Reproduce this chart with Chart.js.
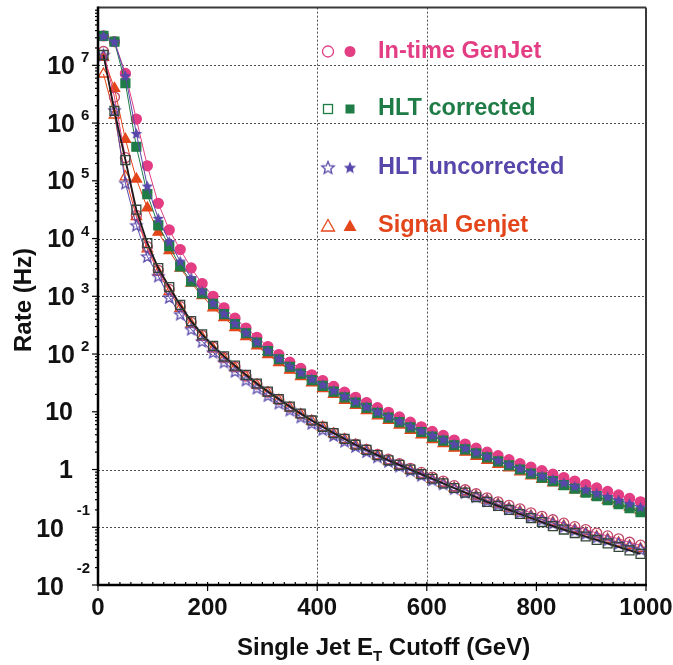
<!DOCTYPE html>
<html>
<head>
<meta charset="utf-8">
<script src="https://cdn.jsdelivr.net/npm/chart.js@4.4.1/dist/chart.umd.min.js"></script>
<style>
  html, body { margin: 0; padding: 0; background: #fff; }
  canvas { display: block; }
</style>
</head>
<body>
<canvas id="rateChart" width="673" height="665"></canvas>
<script>
// Single jet ET cutoff (GeV) of each point
const etCut = [10, 30, 50, 70, 90, 110, 130, 150, 170, 190,
  210, 230, 250, 270, 290, 310, 330, 350, 370, 390,
  410, 430, 450, 470, 490, 510, 530, 550, 570, 590,
  610, 630, 650, 670, 690, 710, 730, 750, 770, 790,
  810, 830, 850, 870, 890, 910, 930, 950, 970, 990];

// log10(rate / Hz) -- filled markers (upper band)
const inTimeFilled = [7.51, 7.41, 6.86, 6.07, 5.26, 4.61, 4.15, 3.81, 3.49, 3.22,
  3.00, 2.80, 2.62, 2.45, 2.29, 2.13, 1.99, 1.86, 1.75, 1.64,
  1.54, 1.44, 1.34, 1.25, 1.16, 1.07, 0.99, 0.91, 0.82, 0.74,
  0.66, 0.59, 0.51, 0.44, 0.37, 0.30, 0.24, 0.17, 0.10, 0.04,
  -0.02, -0.08, -0.14, -0.20, -0.26, -0.32, -0.38, -0.44, -0.50, -0.56];
const hltCorrFilled = [7.51, 7.41, 6.69, 5.59, 4.77, 4.23, 3.87, 3.52, 3.26, 3.05,
  2.87, 2.69, 2.52, 2.36, 2.20, 2.05, 1.91, 1.78, 1.66, 1.55,
  1.45, 1.35, 1.25, 1.16, 1.07, 0.98, 0.90, 0.82, 0.73, 0.65,
  0.57, 0.50, 0.42, 0.35, 0.28, 0.21, 0.14, 0.07, 0.00, -0.07,
  -0.14, -0.20, -0.27, -0.33, -0.40, -0.46, -0.53, -0.60, -0.67, -0.74];
const hltUncorrFilled = [7.51, 7.41, 6.82, 5.82, 4.91, 4.35, 3.95, 3.61, 3.32, 3.09,
  2.88, 2.70, 2.53, 2.37, 2.21, 2.06, 1.92, 1.79, 1.68, 1.57,
  1.47, 1.37, 1.27, 1.18, 1.09, 1.00, 0.92, 0.84, 0.75, 0.67,
  0.59, 0.52, 0.44, 0.37, 0.30, 0.23, 0.16, 0.09, 0.02, -0.05,
  -0.11, -0.17, -0.23, -0.29, -0.35, -0.41, -0.47, -0.53, -0.59, -0.65];
const signalFilled = [7.14, 6.60, 5.72, 5.03, 4.53, 4.11, 3.79, 3.49, 3.23, 3.01,
  2.80, 2.63, 2.46, 2.30, 2.14, 1.99, 1.85, 1.72, 1.61, 1.50,
  1.40, 1.30, 1.20, 1.11, 1.02, 0.93, 0.85, 0.77, 0.68, 0.60,
  0.52, 0.45, 0.37, 0.30, 0.23, 0.16, 0.09, 0.03, -0.04, -0.11,
  -0.17, -0.23, -0.29, -0.35, -0.41, -0.47, -0.53, -0.59, -0.65, -0.71];

// open markers (lower band)
const inTimeOpen = [7.24, 6.45, 5.40, 4.40, 3.86, 3.45, 3.12, 2.82, 2.55, 2.32,
  2.12, 1.94, 1.78, 1.62, 1.48, 1.34, 1.21, 1.08, 0.96, 0.85,
  0.74, 0.63, 0.53, 0.44, 0.35, 0.26, 0.18, 0.10, 0.02, -0.05,
  -0.13, -0.20, -0.28, -0.35, -0.42, -0.49, -0.56, -0.62, -0.68, -0.75,
  -0.81, -0.87, -0.93, -0.99, -1.04, -1.10, -1.15, -1.20, -1.26, -1.31];
const hltCorrOpen = [7.18, 6.21, 5.36, 4.50, 3.92, 3.49, 3.16, 2.85, 2.57, 2.34,
  2.14, 1.96, 1.80, 1.64, 1.49, 1.35, 1.22, 1.09, 0.97, 0.85,
  0.74, 0.63, 0.53, 0.43, 0.34, 0.25, 0.16, 0.08, 0.00, -0.08,
  -0.16, -0.24, -0.32, -0.40, -0.48, -0.56, -0.63, -0.70, -0.77, -0.84,
  -0.91, -0.98, -1.04, -1.10, -1.16, -1.22, -1.28, -1.34, -1.40, -1.46];
const hltUncorrOpen = [7.18, 6.22, 4.96, 4.23, 3.69, 3.35, 2.98, 2.69, 2.43, 2.22,
  2.03, 1.86, 1.70, 1.55, 1.41, 1.28, 1.15, 1.03, 0.91, 0.80,
  0.69, 0.59, 0.49, 0.40, 0.31, 0.22, 0.14, 0.06, -0.02, -0.10,
  -0.18, -0.25, -0.33, -0.40, -0.47, -0.54, -0.61, -0.68, -0.74, -0.81,
  -0.87, -0.93, -0.99, -1.05, -1.11, -1.17, -1.22, -1.28, -1.33, -1.38];
const signalOpen = [6.85, 6.14, 5.07, 4.38, 3.82, 3.42, 3.08, 2.79, 2.52, 2.29,
  2.09, 1.92, 1.76, 1.61, 1.46, 1.33, 1.20, 1.07, 0.95, 0.84,
  0.73, 0.62, 0.52, 0.42, 0.33, 0.24, 0.15, 0.07, -0.01, -0.09,
  -0.17, -0.24, -0.32, -0.39, -0.46, -0.53, -0.60, -0.67, -0.73, -0.80,
  -0.86, -0.92, -0.98, -1.04, -1.10, -1.16, -1.21, -1.27, -1.32, -1.37];

// axes
const xTicks = [0, 200, 400, 600, 800, 1000];
const yExps = [-2, -1, 0, 1, 2, 3, 4, 5, 6, 7];
const xGridAt = [400, 600];
const yGridExps = [-1, 0, 2, 3, 4, 6, 7];
const legendLabels = ['In-time GenJet', 'HLT corrected', 'HLT uncorrected', 'Signal Genjet'];

const PINK = '#e33d84';
const GREEN = '#1f7c46';
const PURPLE = '#5747aa';
const RED = '#e4461b';
const FONT = '"Liberation Sans", Arial, Helvetica, sans-serif';
const NONE = 'rgba(0,0,0,0)';

// 5-point star as an image, Chart.js has no such pointStyle
function makeStar(color, filled, r) {
    const c = document.createElement('canvas');
    const s = Math.ceil(2 * r + 3);
    c.width = s;
    c.height = s;
    const g = c.getContext('2d');
    g.translate(s / 2, s / 2 + r * 0.08);
    g.beginPath();
    for (let i = 0; i < 10; i++) {
        const rad = i % 2 ? r * 0.45 : r;
        const ang = -Math.PI / 2 + i * Math.PI / 5;
        g.lineTo(rad * Math.cos(ang), rad * Math.sin(ang));
    }
    g.closePath();
    if (filled) {
        g.fillStyle = color;
        g.fill();
    } else {
        g.strokeStyle = color;
        g.lineWidth = 1.3;
        g.stroke();
    }
    return c;
}

function series(label, vals, opts) {
    return Object.assign({
        label: label,
        data: etCut.map((e, i) => ({ x: e, y: Math.pow(10, vals[i]) })),
        borderWidth: 1,
        pointRadius: 5,
        pointBorderWidth: 1.3,
        tension: 0
    }, opts);
}

const datasets = [
    series('In-time GenJet (filled)', inTimeFilled, {
        order: 8, pointStyle: 'circle', borderColor: PINK,
        pointBorderColor: PINK, pointBackgroundColor: PINK, pointRadius: 5
    }),
    series('Signal Genjet (filled)', signalFilled, {
        order: 7, pointStyle: 'triangle', borderColor: RED,
        pointBorderColor: RED, pointBackgroundColor: RED, pointRadius: 6
    }),
    series('HLT corrected (filled)', hltCorrFilled, {
        order: 6, pointStyle: 'rect', borderColor: GREEN,
        pointBorderColor: GREEN, pointBackgroundColor: GREEN, pointRadius: 6.3
    }),
    series('HLT uncorrected (filled)', hltUncorrFilled, {
        order: 5, pointStyle: makeStar(PURPLE, true, 6), borderColor: PURPLE,
        pointBorderColor: PURPLE, pointBackgroundColor: PURPLE
    }),
    series('Signal Genjet (open)', signalOpen, {
        order: 4, pointStyle: 'triangle', borderColor: RED,
        pointBorderColor: RED, pointBackgroundColor: NONE, pointRadius: 6
    }),
    series('In-time GenJet (open)', inTimeOpen, {
        order: 3, pointStyle: 'circle', borderColor: PINK,
        pointBorderColor: '#c0476a', pointBackgroundColor: NONE, pointRadius: 5
    }),
    series('HLT uncorrected (open)', hltUncorrOpen, {
        order: 2, pointStyle: makeStar(PURPLE, false, 6), borderColor: PURPLE,
        pointBorderColor: PURPLE, pointBackgroundColor: NONE
    }),
    series('HLT corrected (open)', hltCorrOpen, {
        order: 1, pointStyle: 'rect', borderColor: '#1e1a18', borderWidth: 1.8,
        pointBorderColor: '#34463a', pointBackgroundColor: NONE, pointRadius: 6.3
    })
];

function seg(ctx, x1, y1, x2, y2) {
    ctx.beginPath();
    ctx.moveTo(x1, y1);
    ctx.lineTo(x2, y2);
    ctx.stroke();
}

// grid, frame, ticks, labels and legend drawn on the library's scales
const decor = {
    id: 'decor',
    beforeDatasetsDraw(chart) {
        const { ctx, chartArea: a, scales: { x, y } } = chart;
        ctx.save();
        ctx.strokeStyle = '#4d4d4d';
        ctx.lineWidth = 1;
        ctx.setLineDash([2, 2]);
        yGridExps.forEach(e => {
            const py = Math.round(y.getPixelForValue(Math.pow(10, e))) + 0.5;
            seg(ctx, a.left, py, a.right, py);
        });
        xGridAt.forEach(v => {
            const px = Math.round(x.getPixelForValue(v)) + 0.5;
            seg(ctx, px, a.top, px, a.bottom);
        });
        ctx.restore();
    },
    afterDatasetsDraw(chart) {
        const { ctx, chartArea: a, scales: { x, y } } = chart;
        ctx.save();

        // top and right frame
        ctx.strokeStyle = '#3a3a3a';
        ctx.lineWidth = 2;
        seg(ctx, a.left, a.top, a.right, a.top);
        seg(ctx, a.right, a.top, a.right, a.bottom);

        // left and bottom axes
        ctx.strokeStyle = '#000';
        ctx.lineWidth = 2.5;
        seg(ctx, a.left, a.top - 1, a.left, a.bottom + 1);
        seg(ctx, a.left - 1, a.bottom, a.right + 1, a.bottom);

        // y ticks (outside)
        ctx.lineWidth = 1.2;
        yExps.forEach(e => {
            const py = y.getPixelForValue(Math.pow(10, e));
            seg(ctx, a.left - 6, py, a.left, py);
            for (let k = 2; k <= 9; k++) {
                const pm = y.getPixelForValue(k * Math.pow(10, e));
                seg(ctx, a.left - 3, pm, a.left, pm);
            }
        });
        // x ticks
        xTicks.forEach(v => {
            const px = x.getPixelForValue(v);
            seg(ctx, px, a.bottom, px, a.bottom + 6);
        });
        for (let v = 20; v < 1000; v += 20) {
            const px = x.getPixelForValue(v);
            seg(ctx, px, a.bottom - 3, px, a.bottom);
        }

        // tick labels
        ctx.fillStyle = '#111';
        ctx.textBaseline = 'alphabetic';
        ctx.font = 'bold 24px ' + FONT;
        ctx.textAlign = 'center';
        xTicks.forEach(v => {
            ctx.fillText(String(v), x.getPixelForValue(v), 615);
        });

        yExps.forEach(e => {
            const py = y.getPixelForValue(Math.pow(10, e));
            ctx.font = 'bold 25px ' + FONT;
            if (e === 0 || e === 1) {
                ctx.textAlign = 'right';
                ctx.fillText(e === 0 ? '1' : '10', 73, py + 8.5);
            } else if (e > 1) {
                ctx.textAlign = 'right';
                ctx.fillText('10', 75, py + 8.5);
                ctx.font = 'bold 15px ' + FONT;
                ctx.textAlign = 'left';
                ctx.fillText(String(e), 81, py - 3);
            } else {
                ctx.textAlign = 'right';
                ctx.fillText('10', 64, py + 9.5);
                ctx.font = 'bold 15px ' + FONT;
                ctx.fillText(String(e), 90, py - 12);
            }
        });

        // axis titles
        ctx.font = 'bold 24px ' + FONT;
        ctx.textAlign = 'left';
        let tx = 237;
        ctx.fillText('Single Jet E', tx, 655);
        tx += ctx.measureText('Single Jet E').width;
        ctx.font = 'bold 15px ' + FONT;
        ctx.fillText('T', tx, 661);
        tx += ctx.measureText('T').width;
        ctx.font = 'bold 24px ' + FONT;
        ctx.fillText(' Cutoff (GeV)', tx, 655);

        ctx.save();
        ctx.translate(31, 300);
        ctx.rotate(-Math.PI / 2);
        ctx.textAlign = 'center';
        ctx.fillText('Rate (Hz)', 0, 0);
        ctx.restore();

        // legend: open + filled marker, coloured label
        const colors = [PINK, GREEN, PURPLE, RED];
        const rowY = [51.5, 109, 167.5, 226];
        rowY.forEach((cy, i) => {
            const c = colors[i];
            const xo = 328, xf = 350;
            ctx.strokeStyle = c;
            ctx.fillStyle = c;
            ctx.lineWidth = 1.3;
            if (i === 0) {
                ctx.beginPath(); ctx.arc(xo, cy, 5.5, 0, Math.PI * 2); ctx.stroke();
                ctx.beginPath(); ctx.arc(xf, cy, 5.5, 0, Math.PI * 2); ctx.fill();
            } else if (i === 1) {
                ctx.strokeRect(xo - 4.5, cy - 4.5, 9, 9);
                ctx.fillRect(xf - 4.5, cy - 4.5, 9, 9);
            } else if (i === 2) {
                const so = makeStar(c, false, 6.5), sf = makeStar(c, true, 6.5);
                ctx.drawImage(so, xo - so.width / 2, cy - so.height / 2);
                ctx.drawImage(sf, xf - sf.width / 2, cy - sf.height / 2);
            } else {
                const tri = (cx, fill) => {
                    ctx.beginPath();
                    ctx.moveTo(cx, cy - 6.5);
                    ctx.lineTo(cx + 6.5, cy + 5);
                    ctx.lineTo(cx - 6.5, cy + 5);
                    ctx.closePath();
                    fill ? ctx.fill() : ctx.stroke();
                };
                tri(xo, false);
                tri(xf, true);
            }
            ctx.font = 'bold 23.5px ' + FONT;
            ctx.textAlign = 'left';
            ctx.fillText(legendLabels[i], 378, cy + 6);
        });

        ctx.restore();
    }
};

new Chart(document.getElementById('rateChart').getContext('2d'), {
    type: 'line',
    data: { datasets: datasets },
    options: {
        responsive: false,
        animation: false,
        layout: { padding: { left: 98, right: 27, top: 5, bottom: 80 } },
        scales: {
            x: { type: 'linear', min: 0, max: 1000, display: false },
            y: { type: 'logarithmic', min: 1e-2, max: 1e8, display: false }
        },
        plugins: {
            legend: { display: false },
            tooltip: { enabled: false }
        }
    },
    plugins: [decor]
});
</script>
</body>
</html>
